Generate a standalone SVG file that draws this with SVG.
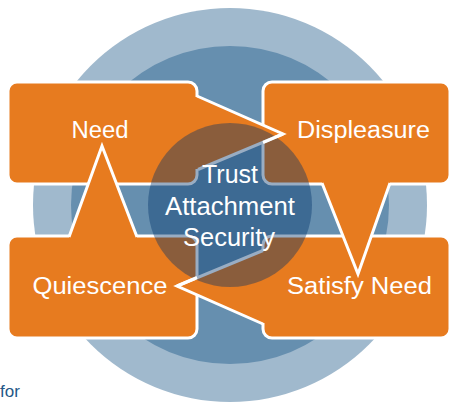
<svg xmlns="http://www.w3.org/2000/svg" width="451" height="403" viewBox="0 0 451 403">
  <style>
    .block { fill: #E77B1F; stroke: #FFFFFF; stroke-width: 3; }
    .ext { fill: #E77B1F; stroke: none; }
    .edge { fill: none; stroke: #FFFFFF; stroke-width: 3; stroke-linejoin: miter; stroke-linecap: butt; }
    .label { fill: #FFFFFF; font-family: "Liberation Sans", Arial, sans-serif; font-size: 23px; text-anchor: middle; }
    .hub-text { fill: #FFFFFF; font-family: "Liberation Sans", Arial, sans-serif; font-size: 25px; text-anchor: middle; }
  </style>

  <rect width="451" height="403" fill="#FFFFFF"/>

  <!-- background rings -->
  <g id="rings">
    <circle cx="230" cy="205" r="197" fill="#A0B9CD"/>
    <circle cx="230" cy="205" r="159" fill="#668FAF"/>
  </g>

  <!-- the four stage blocks -->
  <g id="node-need">
    <rect class="block" x="8" y="82" width="189" height="102" rx="9"/>
    <text class="label" x="100" y="138" textLength="57" lengthAdjust="spacingAndGlyphs">Need</text>
  </g>
  <g id="node-displeasure">
    <rect class="block" x="263" y="82" width="187" height="102" rx="9"/>
    <text class="label" x="363.5" y="138" textLength="133" lengthAdjust="spacingAndGlyphs">Displeasure</text>
  </g>
  <g id="node-satisfy-need">
    <rect class="block" x="263" y="236" width="187" height="102" rx="9"/>
    <text class="label" x="359.5" y="294" textLength="145" lengthAdjust="spacingAndGlyphs">Satisfy Need</text>
  </g>
  <g id="node-quiescence">
    <rect class="block" x="8" y="236" width="189" height="102" rx="9"/>
    <text class="label" x="100" y="294" textLength="135" lengthAdjust="spacingAndGlyphs">Quiescence</text>
  </g>

  <!-- zigzag links: each block reaches into the next one -->
  <g id="connectors">
    <!-- Need -> Displeasure -->
    <polygon class="ext" points="190,97 197,97 283,134 198,169 190,169"/>
    <polyline class="edge" points="197,96 283,134 198,169.5"/>
    <!-- Displeasure -> Satisfy Need -->
    <polygon class="ext" points="322,176 322,184 358,274 390,184 390,176"/>
    <polyline class="edge" points="322,183 358,274 390,183"/>
    <!-- Satisfy Need -> Quiescence -->
    <polygon class="ext" points="270,251 262,251 177,286 263,323 270,323"/>
    <polyline class="edge" points="263,250.5 177,286 263,324"/>
    <!-- Quiescence -> Need -->
    <polygon class="ext" points="69,244 69,237 102,146 137,237 137,244"/>
    <polyline class="edge" points="69,237 102,146 137,237"/>
  </g>

  <!-- central hub -->
  <g id="node-hub">
    <circle cx="230" cy="205" r="82" fill="#00336A" fill-opacity="0.4"/>
    <line class="edge" x1="283" y1="134" x2="263" y2="142.5"/>
    <line class="edge" x1="177" y1="286" x2="197" y2="277.5"/>
    <text class="hub-text" x="230" y="183" textLength="56" lengthAdjust="spacingAndGlyphs">Trust</text>
    <text class="hub-text" x="230" y="215" textLength="130" lengthAdjust="spacingAndGlyphs">Attachment</text>
    <text class="hub-text" x="229" y="246" textLength="92" lengthAdjust="spacingAndGlyphs">Security</text>
  </g>

  <text x="0" y="397" fill="#245887" font-family="'Liberation Sans', Arial, sans-serif" font-size="17">for</text>
</svg>
